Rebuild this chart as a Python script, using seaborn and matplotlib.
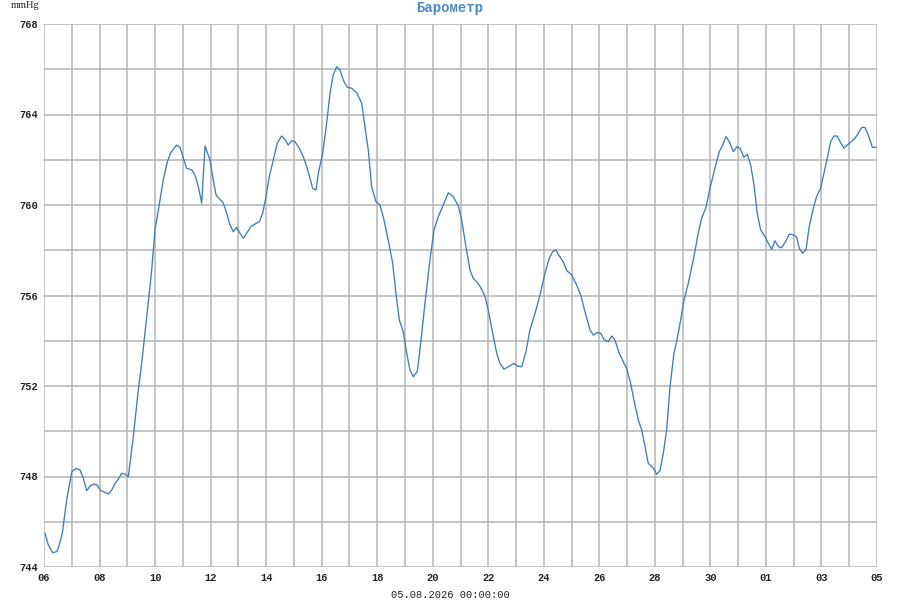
import matplotlib
matplotlib.use("Agg")
import matplotlib.pyplot as plt
import matplotlib.dates as mdates
import seaborn as sns
import pandas as pd
import numpy as np

# hours since 2026-07-06 00:00
hours = [0.9, 3.7, 7.5, 11.0, 12.4, 15.8, 19.6, 24.0, 27.7, 31.1, 34.0, 36.9, 39.8, 43.2, 46.1,
         48.4, 52.7, 55.6, 58.5, 61.4, 64.2, 67.2, 70.0, 72.9, 77.2, 81.5, 84.4, 88.8, 93.1, 95.9,
         100.3, 103.1, 106.6, 109.5, 114.7, 117.5, 123.3, 127.7, 130.5, 133.4, 136.3, 139.2, 143.5,
         146.3, 148.7, 152.1, 155.0, 157.9, 160.8, 163.6, 166.6, 169.4, 172.3, 175.2, 178.7, 182.4,
         186.1, 189.0, 191.9, 194.7, 198.2, 201.6, 205.4, 208.3, 211.1, 214.1, 216.9, 220.7, 224.1,
         227.1, 229.9, 232.2, 235.1, 237.1, 240.9, 244.3, 247.2, 250.0, 253.0, 255.8, 259.3, 262.1,
         265.9, 270.3, 274.6, 277.4, 280.3, 283.2, 286.9, 290.4, 293.9, 298.4, 301.4, 304.2, 307.1,
         310.5, 313.5, 316.3, 319.2, 322.6, 325.6, 329.3, 333.6, 337.1, 340.8, 345.1, 349.4, 353.8,
         358.1, 361.0, 364.7, 368.2, 371.0, 374.5, 377.4, 381.2, 384.0, 387.8, 391.3, 394.1, 397.6,
         402.2, 406.2, 409.1, 412.9, 416.6, 420.0, 424.4, 428.7, 433.0, 436.7, 439.7, 442.5, 445.4,
         448.8, 451.8, 456.1, 460.4, 463.9, 467.6, 471.9, 474.8, 478.2, 481.2, 484.0, 487.7, 490.7,
         493.5, 497.2, 500.7, 503.6, 507.1, 509.9, 513.7, 516.6, 519.5, 522.3, 526.1, 529.6, 532.4,
         535.3, 538.2, 541.1, 544.5, 547.4, 550.3, 553.2, 556.9, 561.2, 565.5, 568.4, 572.2, 575.6,
         579.9, 583.7, 586.6, 589.5, 592.3, 595.8, 599.2, 601.6, 605.0, 607.9, 610.8, 613.7, 616.5,
         619.4, 623.2, 626.0, 629.0, 631.8, 634.7, 637.6, 641.4, 644.2, 648.2, 650.6, 652.8, 655.7,
         658.6, 661.4, 664.9, 667.8, 671.3, 674.1, 677.0, 679.9, 682.8, 685.6, 688.6, 691.4, 694.3,
         697.2, 701.0, 703.8, 706.8, 709.6, 712.5, 716.0, 719.1]

pressure = [745.49, 744.97, 744.63, 744.68, 744.83, 745.49, 746.96, 748.21, 748.36, 748.29, 747.92,
            747.37, 747.58, 747.67, 747.62, 747.40, 747.30, 747.23, 747.40, 747.70, 747.88, 748.14,
            748.11, 747.99, 749.76, 751.82, 753.00, 755.06, 757.13, 758.90, 760.22, 761.10, 761.91,
            762.31, 762.65, 762.55, 761.62, 761.55, 761.33, 760.81, 760.08, 762.61, 761.99, 761.10,
            760.44, 760.25, 760.08, 759.63, 759.12, 758.82, 759.01, 758.75, 758.53, 758.75, 759.04,
            759.16, 759.26, 759.63, 760.37, 761.25, 761.99, 762.73, 763.05, 762.90, 762.65, 762.84,
            762.80, 762.51, 762.13, 761.69, 761.18, 760.74, 760.66, 761.40, 762.29, 763.61, 764.94,
            765.75, 766.11, 765.97, 765.45, 765.20, 765.16, 764.96, 764.50, 763.46, 762.43, 760.81,
            760.15, 760.00, 759.34, 758.23, 757.42, 756.10, 754.92, 754.40, 753.45, 752.71, 752.41,
            752.63, 753.89, 755.66, 757.57, 758.90, 759.48, 760.00, 760.54, 760.37, 759.96, 759.34,
            758.16, 757.13, 756.76, 756.57, 756.36, 755.95, 755.36, 754.33, 753.45, 753.00, 752.74,
            752.88, 753.00, 752.88, 752.85, 753.52, 754.48, 755.21, 756.02, 756.98, 757.64, 757.94,
            758.01, 757.75, 757.49, 757.10, 756.91, 756.46, 756.02, 755.28, 754.48, 754.25, 754.36,
            754.33, 754.06, 753.96, 754.21, 754.03, 753.45, 753.07, 752.78, 752.12, 751.38, 750.50,
            750.06, 749.32, 748.58, 748.41, 748.10, 748.26, 749.03, 750.06, 751.97, 753.45, 754.11,
            754.92, 755.80, 756.54, 757.57, 758.75, 759.41, 759.90, 760.74, 761.62, 762.36, 762.65,
            763.02, 762.80, 762.36, 762.58, 762.51, 762.11, 762.24, 761.77, 760.88, 759.63, 758.90,
            758.60, 758.31, 758.04, 758.42, 758.16, 758.11, 758.42, 758.72, 758.67, 758.57, 758.09,
            757.87, 758.01, 759.04, 759.85, 760.37, 760.74, 761.40, 762.06, 762.80, 763.05, 763.05,
            762.75, 762.51, 762.65, 762.77, 762.95, 763.17, 763.43, 763.43, 763.09, 762.55, 762.55]

start = "2026-07-06"
end = "2026-08-05"
y_ticks = [744, 748, 752, 756, 760, 764, 768]
title = "Барометр"
unit = "mmHg"
x_caption = "05.08.2026 00:00:00"

df = pd.DataFrame({
    "time": pd.Timestamp(start) + pd.to_timedelta(hours, unit="h"),
    "pressure": pressure,
})

sns.set_theme(style="white")
plt.rcParams["font.family"] = ["Liberation Mono", "DejaVu Sans Mono"]

fig = plt.figure(figsize=(9, 6), dpi=100)
ax = fig.add_axes([44 / 900, 33 / 600, 833 / 900, 543 / 600])

sns.lineplot(data=df, x="time", y="pressure", ax=ax, color="#3b7dbd", linewidth=0.95)

ax.set_xlim(pd.Timestamp(start), pd.Timestamp(end))
ax.set_ylim(744, 768)

ax.set_xticks(pd.date_range(start, end, freq="2D"))
ax.set_xticks(pd.date_range(start, end, freq="1D"), minor=True)
ax.xaxis.set_major_formatter(mdates.DateFormatter("%d"))
ax.set_yticks(y_ticks)
ax.set_yticks(np.arange(744, 769, 2), minor=True)

grid_kw = dict(color="#b4b4b4", linewidth=1.1)
ax.grid(True, which="both", **grid_kw)
ax.set_axisbelow(True)
for s in ax.spines.values():
    s.set_visible(False)

ax.tick_params(axis="both", which="both", length=0)
ax.tick_params(axis="x", pad=4.5)
ax.tick_params(axis="y", pad=4)
for lbl in ax.get_xticklabels() + ax.get_yticklabels():
    lbl.set_fontsize(7.5)
    lbl.set_fontweight("bold")
    lbl.set_color("#222222")

ax.set_xlabel("")
ax.set_ylabel("")

fig.text(0.5, 1 - 8 / 600, title, ha="center", va="center", fontsize=10,
         fontweight="bold", color="#4a8ac6")
fig.text(11 / 900, 1 - 6 / 600, unit, ha="left", va="center", fontsize=7.5,
         family=["Liberation Serif", "DejaVu Serif"], color="#222222")
fig.text(450 / 900, 1 - 595 / 600, x_caption, ha="center", va="center", fontsize=7.5,
         color="#222222")

fig.savefig("out.png", dpi=100)
